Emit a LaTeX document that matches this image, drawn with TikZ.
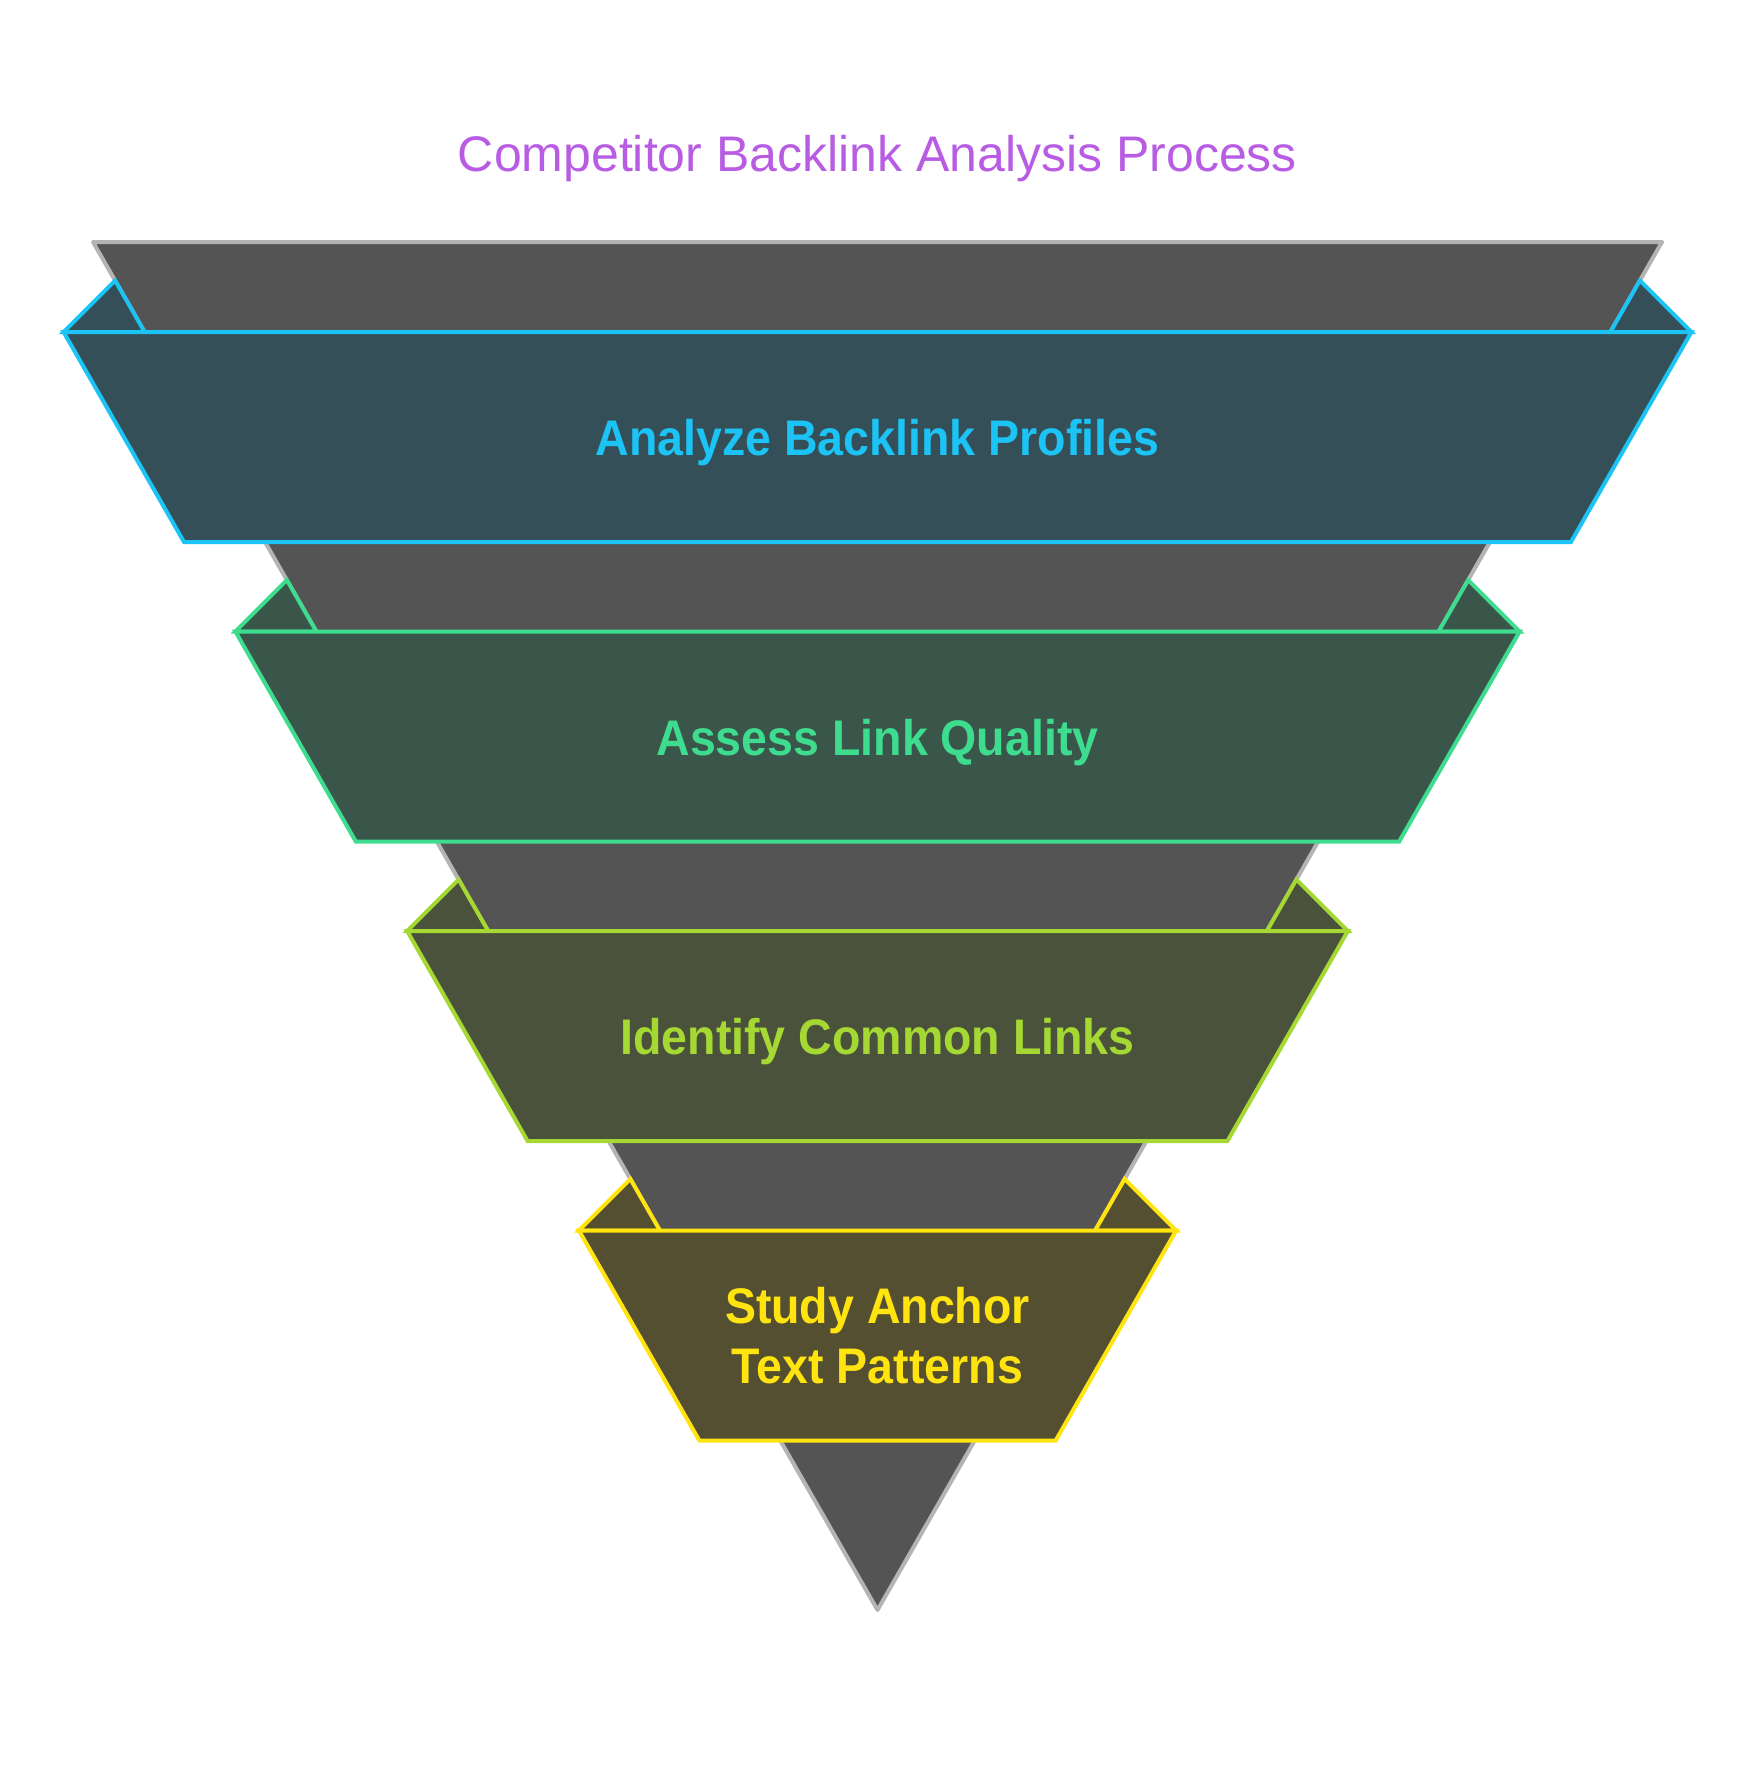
\documentclass[tikz,border=0pt]{standalone}
\usepackage{fontspec}
\setmainfont{Liberation Sans}
\newfontfamily\bandfont[FakeStretch=0.93]{Liberation Sans}
\usepackage{tikz}

\definecolor{titletext}{HTML}{B85DE3}
\definecolor{funnelline}{HTML}{B4B4B4}
\definecolor{funnelfill}{HTML}{545454}
\definecolor{profline}{HTML}{1CC3F5}
\definecolor{proffill}{HTML}{354F59}
\definecolor{qualline}{HTML}{3EDC8F}
\definecolor{qualfill}{HTML}{3A564A}
\definecolor{commline}{HTML}{A5D832}
\definecolor{commfill}{HTML}{4A523B}
\definecolor{anchline}{HTML}{FFE40F}
\definecolor{anchfill}{HTML}{544F30}

\begin{document}
\begin{tikzpicture}[
    x=1pt, y=-1pt,
    % Styles
    funnelbody/.style={draw=funnelline, fill=funnelfill, line width=4pt, line join=round},
    band/.style={draw=#1line, fill=#1fill, line width=4pt},
    bandlabel/.style={text=#1line, font=\bandfont\fontsize{50}{60}\selectfont\bfseries, align=center, inner sep=0pt},
    titlelabel/.style={text=titletext, font=\fontsize{50}{60}\selectfont, inner sep=0pt}
]
    \useasboundingbox (0,0) rectangle (1756,1775);

    % Title
    \node[titlelabel, anchor=base] (title) at (877.5,171) {Competitor Backlink Analysis Process};

    % Funnel body
    \draw[funnelbody] (93,242) -- (1662,242) -- (877.5,1610) -- cycle;

    % Band 1 - Analyze Backlink Profiles
    \draw[band=prof] (63.6,332) -- (115.1,280.5) -- (144.6,332) -- cycle;
    \draw[band=prof] (1691.4,332) -- (1639.9,280.5) -- (1610.4,332) -- cycle;
    \draw[band=prof] (63.6,332) -- (1691.4,332) -- (1570.95,542) -- (184.05,542) -- cycle;
    \node[bandlabel=prof, anchor=base] (prof) at (877.5,455.5) {Analyze Backlink Profiles};

    % Band 2 - Assess Link Quality
    \draw[band=qual] (235.38,631.5) -- (286.84,580) -- (316.38,631.5) -- cycle;
    \draw[band=qual] (1519.62,631.5) -- (1468.16,580) -- (1438.62,631.5) -- cycle;
    \draw[band=qual] (235.38,631.5) -- (1519.62,631.5) -- (1399.19,841.5) -- (355.81,841.5) -- cycle;
    \node[bandlabel=qual, anchor=base] (qual) at (877.5,755) {Assess Link Quality};

    % Band 3 - Identify Common Links
    \draw[band=comm] (407.14,931) -- (458.61,879.5) -- (488.14,931) -- cycle;
    \draw[band=comm] (1347.86,931) -- (1296.39,879.5) -- (1266.86,931) -- cycle;
    \draw[band=comm] (407.14,931) -- (1347.86,931) -- (1227.42,1141) -- (527.58,1141) -- cycle;
    \node[bandlabel=comm, anchor=base] (comm) at (877.5,1054.5) {Identify Common Links};

    % Band 4 - Study Anchor Text Patterns
    \draw[band=anch] (578.9,1230.5) -- (630.37,1179) -- (659.9,1230.5) -- cycle;
    \draw[band=anch] (1176.1,1230.5) -- (1124.63,1179) -- (1095.1,1230.5) -- cycle;
    \draw[band=anch] (578.9,1230.5) -- (1176.1,1230.5) -- (1055.66,1440.5) -- (699.34,1440.5) -- cycle;
    \node[bandlabel=anch] (anch) at (877.5,1335.5) {Study Anchor\\Text Patterns};
\end{tikzpicture}
\end{document}
